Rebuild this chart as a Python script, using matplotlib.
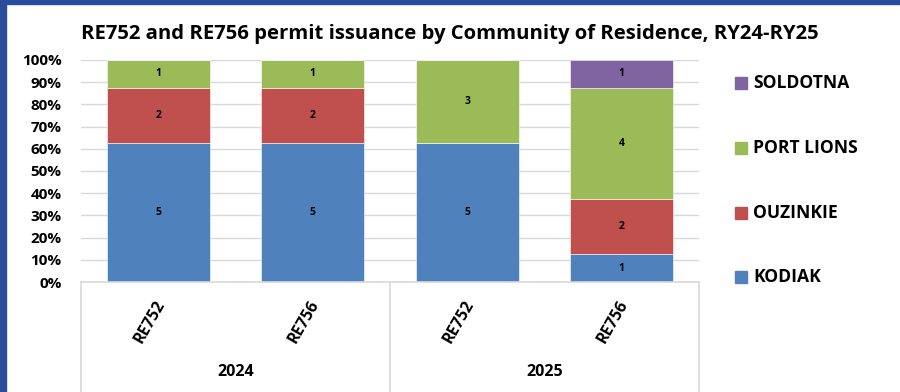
import numpy as np
import matplotlib.pyplot as plt
from matplotlib.lines import Line2D
from matplotlib.patches import Rectangle

years = ['2024', '2024', '2025', '2025']
permits = ['RE752', 'RE756', 'RE752', 'RE756']
communities = ['KODIAK', 'OUZINKIE', 'PORT LIONS', 'SOLDOTNA']
kodiak = [5, 5, 5, 1]
ouzinkie = [2, 2, 0, 2]
port_lions = [1, 1, 3, 4]
soldotna = [0, 0, 0, 1]
colors = ['#4F81BD', '#C0504D', '#9BBB59', '#8064A2']

plt.rcParams['font.family'] = ['Open Sans', 'DejaVu Sans']

counts = np.array([kodiak, ouzinkie, port_lions, soldotna], dtype=float)
totals = counts.sum(axis=0)
shares = counts / totals

fig = plt.figure(figsize=(9, 3.92), dpi=100)
ax = fig.add_axes([0.09, 0.2806, 0.6867, 0.5664])

x = np.arange(len(permits))
bottom = np.zeros(len(permits))
for name, share, cnt, col in zip(communities, shares, counts, colors):
    ax.bar(x, share, 0.667, bottom=bottom, color=col, edgecolor='white',
           linewidth=0.4, label=name, zorder=2)
    for xi, b, s, c in zip(x, bottom, share, cnt):
        if c > 0:
            ax.text(xi, b + s / 2, '%d' % c, ha='center', va='center',
                    fontsize=7.5, fontweight='bold', color='black', zorder=3)
    bottom += share

ax.set_xlim(-0.5, 3.5)
ax.set_ylim(0, 1)
ax.set_yticks(np.arange(0, 1.01, 0.1))
ax.set_yticklabels(['%d%%' % round(v * 100) for v in np.arange(0, 1.01, 0.1)],
                   fontsize=11, fontweight='bold')
ax.tick_params(axis='y', length=0, pad=14)
ax.set_xticks([])
for sp in ax.spines.values():
    sp.set_visible(False)
ax.yaxis.grid(True, color='#d9d9d9', linewidth=1, zorder=0)
ax.set_axisbelow(True)

# category box under the plot
box = '#d9d9d9'
trans = ax.get_xaxis_transform()
ax.plot([-0.5, 3.5], [0, 0], color=box, lw=1.2, transform=trans, clip_on=False)
for xv in [-0.5, 1.5, 3.5]:
    ax.add_line(Line2D([xv, xv], [0, -0.52], color=box, lw=1.2,
                       transform=trans, clip_on=False))

for xi, p in zip(x, permits):
    ax.text(xi + 0.02, -0.09, p, rotation=60, ha='right', va='center',
            fontsize=11.5, fontweight='bold', transform=trans,
            rotation_mode='anchor')

for yr in dict.fromkeys(years):
    idx = [k for k, y in enumerate(years) if y == yr]
    ax.text(np.mean(idx), -0.405, yr, ha='center', va='center', fontsize=11.5,
            fontweight='bold', transform=trans)

fig.text(0.5, 0.912, 'RE752 and RE756 permit issuance by Community of Residence, RY24-RY25',
         ha='center', va='center', fontsize=14.6, fontweight='bold')

# legend, top entry first
legend_y = [83, 148, 213, 277]
for name, col, yp in zip(communities[::-1], colors[::-1], legend_y):
    fy = 1 - yp / 392
    fig.patches.append(Rectangle((735 / 900, fy - 6 / 392), 12 / 900, 12 / 392,
                                 color=col, transform=fig.transFigure))
    fig.text(753 / 900, fy, name, ha='left', va='center', fontsize=12.6,
             fontweight='bold')

# frame around the chart
fig.patches.append(Rectangle((0, 0), 6 / 900, 1, color='#2A4D9B',
                             transform=fig.transFigure))
fig.patches.append(Rectangle((0, 1 - 4 / 392), 1, 4 / 392, color='#2A4D9B',
                             transform=fig.transFigure))

fig.savefig('out.png', dpi=100)
